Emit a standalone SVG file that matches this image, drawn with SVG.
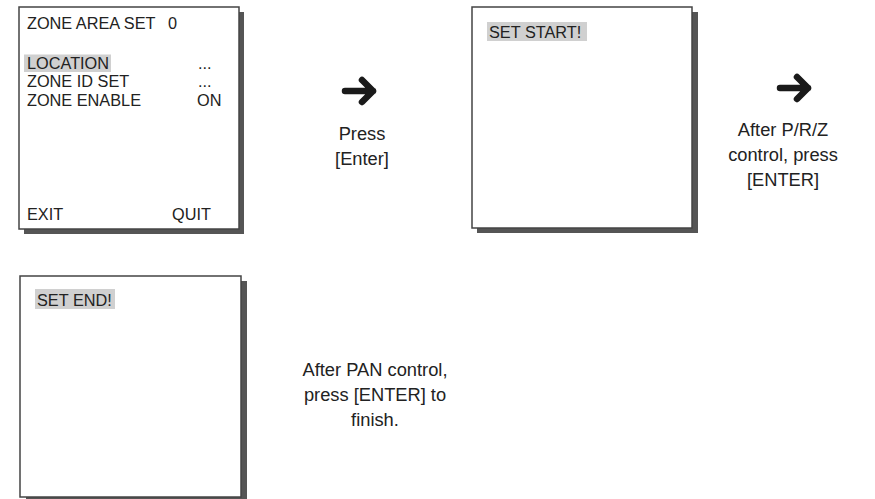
<svg xmlns="http://www.w3.org/2000/svg" width="875" height="499" viewBox="0 0 875 499">
<style>
.scr{fill:#fff;stroke:#444;stroke-width:1.5}
.sh{fill:#555}
.hl{fill:#d0d0d0}
.t{font-family:"Liberation Sans",Arial,sans-serif;font-size:16.3px;fill:#222}
.lb{font-family:"Liberation Sans",Arial,sans-serif;font-size:18.3px;fill:#222;text-anchor:middle}
.arr{fill:none;stroke:#1a1a1a;stroke-width:6.5;stroke-linecap:round;stroke-linejoin:round}
</style>
<rect width="875" height="499" fill="#fff"/>
<g id="screen-zone-area">
<rect class="sh" x="24" y="12" width="220" height="222"/>
<rect class="scr" x="19" y="7" width="220" height="222"/>
<text class="t" x="27" y="29">ZONE AREA SET</text>
<text class="t" x="168" y="29">0</text>
<rect class="hl" x="24" y="54.5" width="87" height="17.5"/>
<text class="t" x="27" y="68.5">LOCATION</text>
<text class="t" x="198" y="68.5">...</text>
<text class="t" x="27" y="87">ZONE ID SET</text>
<text class="t" x="198" y="87">...</text>
<text class="t" x="27" y="105.5">ZONE ENABLE</text>
<text class="t" x="197" y="105.5">ON</text>
<text class="t" x="27" y="220">EXIT</text>
<text class="t" x="172" y="220">QUIT</text>
</g>
<g id="screen-set-start">
<rect class="sh" x="477" y="12" width="221" height="221"/>
<rect class="scr" x="472" y="7" width="220" height="221"/>
<rect class="hl" x="487" y="22" width="100" height="19"/>
<text class="t" x="489" y="38">SET START!</text>
</g>
<g id="screen-set-end">
<rect class="sh" x="26" y="281" width="221" height="221"/>
<rect class="scr" x="20" y="276" width="221" height="221"/>
<rect class="hl" x="35" y="289" width="80" height="20"/>
<text class="t" x="37" y="306">SET END!</text>
</g>
<g id="connectors">
<g id="arrow-1">
<path class="arr" d="M345 91 H373 M362 80 L373 91 L362 102"/>
</g>
<g id="arrow-2">
<path class="arr" d="M780 88 H808 M797 77 L808 88 L797 99"/>
</g>
</g>
<g id="label-press">
<text class="lb" x="362" y="140">Press</text>
<text class="lb" x="362" y="165">[Enter]</text>
</g>
<g id="label-prz">
<text class="lb" x="783" y="136">After P/R/Z</text>
<text class="lb" x="783" y="161">control, press</text>
<text class="lb" x="783" y="186">[ENTER]</text>
</g>
<g id="label-pan">
<text class="lb" x="375" y="376">After PAN control,</text>
<text class="lb" x="375" y="401">press [ENTER] to</text>
<text class="lb" x="375" y="426">finish.</text>
</g>
</svg>
